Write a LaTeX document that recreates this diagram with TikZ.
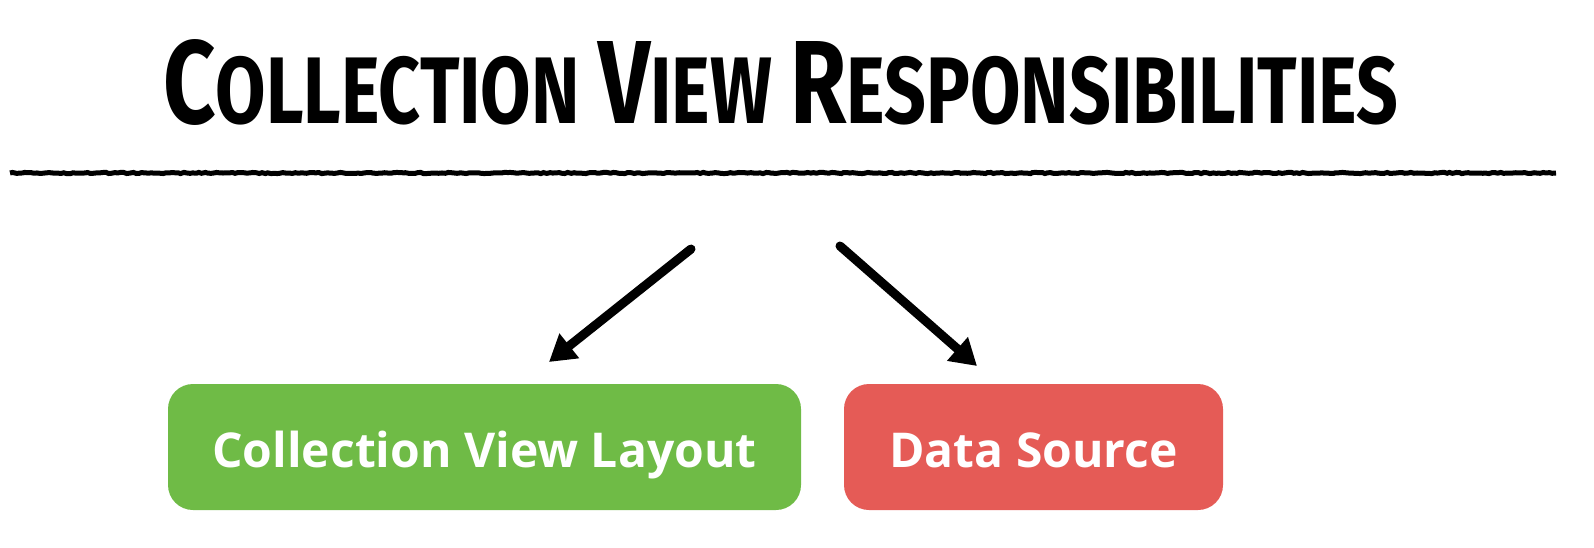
\documentclass[tikz,border=0pt]{standalone}
\usepackage{fontspec}
\usetikzlibrary{arrows.meta,decorations.pathmorphing}
\setmainfont{Open Sans}
\newfontfamily\titlefont{Fira Sans}
\definecolor{layoutgreen}{RGB}{111,187,70}
\definecolor{sourcered}{RGB}{229,91,86}
\newcommand{\tcapbig}[1]{{\fontsize{90}{90}\selectfont #1}}
\newcommand{\tcapsmall}[1]{{\fontsize{72}{72}\selectfont #1}}
\newcommand{\tgap}{\hspace{18pt}}
\begin{document}
\begin{tikzpicture}[x=1pt,y=-1pt,
  box/.style={inner sep=0pt, text=white,
    font=\fontsize{48}{48}\selectfont\bfseries},
  sketch/.style={line width=9pt, line cap=round, black,
    -{Triangle[length=26pt,width=30pt]}},
  rule/.style={line width=5pt, black,
    decorate, decoration={random steps, segment length=3pt, amplitude=0.6pt}}]
  \useasboundingbox (0,0) rectangle (1594,548);
  % heading
  \node[anchor=base west, inner sep=0pt] (title) at (163,124)
    {\resizebox{1235pt}{84pt}{\titlefont\fontseries{sb}\selectfont
      \tcapbig{C}\tcapsmall{OLLECTION}\tgap\tcapbig{V}\tcapsmall{IEW}\tgap\tcapbig{R}\tcapsmall{ESPONSIBILITIES}}};
  \coordinate (ruleL) at (10,173);
  \coordinate (ruleR) at (1556,173);
  \draw[rule] (ruleL) -- (ruleR);
  % the two responsibilities
  \path[fill=layoutgreen, rounded corners=25pt] (168,384) rectangle (801,510);
  \node[box, anchor=base] (layout) at (484.5,467) {Collection View Layout};
  \path[fill=sourcered, rounded corners=25pt] (844,384) rectangle (1223,510);
  \node[box, anchor=base] (source) at (1033.5,467) {Data Source};
  % arrows
  \coordinate (aL) at (691,249);
  \coordinate (aR) at (840,246);
  \coordinate (tL) at (549,362);
  \coordinate (tR) at (977,366);
  \draw[sketch] (aL) -- (tL);
  \draw[sketch] (aR) -- (tR);
\end{tikzpicture}
\end{document}
